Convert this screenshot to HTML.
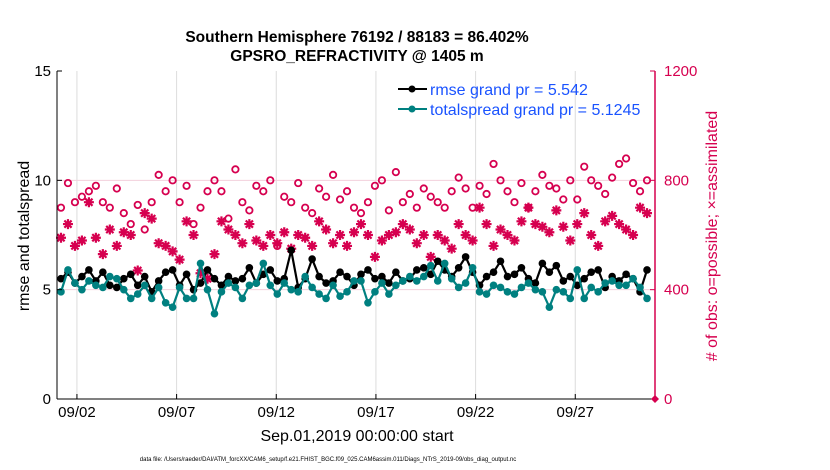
<!DOCTYPE html>
<html><head><meta charset="utf-8"><style>
html,body{margin:0;padding:0;background:#fff;}
svg{display:block;font-family:"Liberation Sans",sans-serif;}
</style></head><body>
<svg id="chart" width="830" height="470" viewBox="0 0 830 470">
<text x="357" y="42" text-anchor="middle" font-size="15.5" font-weight="bold">Southern Hemisphere 76192 / 88183 = 86.402%</text>
<text x="357" y="61" text-anchor="middle" font-size="15.5" font-weight="bold">GPSRO_REFRACTIVITY @ 1405 m</text>
<g id="grid"></g>
<g id="series"></g>
<g id="axes"></g>
<g>
<g>
<line x1="398" y1="89" x2="427" y2="89" stroke="#000" stroke-width="2"/><circle cx="412" cy="89" r="3.5" fill="#000"/>
<text x="430" y="95" font-size="16" fill="#1a53ff">rmse grand pr = 5.542</text></g>
<g>
<line x1="398" y1="109" x2="427" y2="109" stroke="#008080" stroke-width="2"/><circle cx="412" cy="109" r="3.5" fill="#008080"/>
<text x="430" y="115" font-size="16" fill="#1a53ff">totalspread grand pr = 5.1245</text></g>
</g>
<text x="357" y="441" text-anchor="middle" font-size="16">Sep.01,2019 00:00:00 start</text>
<text transform="translate(29,236) rotate(-90)" text-anchor="middle" font-size="16">rmse and totalspread</text>
<text transform="translate(717,236) rotate(-90)" text-anchor="middle" font-size="16" fill="#d6004f"># of obs: o=possible; ×=assimilated</text>
<text x="328" y="461" text-anchor="middle" font-size="6">data file: /Users/raeder/DAI/ATM_forcXX/CAM6_setup/f.e21.FHIST_BGC.f09_025.CAM6assim.011/Diags_NTrS_2019-09/obs_diag_output.nc</text>
</svg>
<script>
const startDay = 0.2;
const stepDay = 0.35;
const xTickDays = [1,6,11,16,21,26];
const xTickLabels = ["09/02","09/07","09/12","09/17","09/22","09/27"];
const yLeftTicks = [0,5,10,15];
const yRightTicks = [0,400,800,1200];
const rmse = [5.5,5.8,5.3,5.6,5.9,5.4,5.8,5.2,5.1,5.5,5.7,5.2,5.6,4.9,5.4,5.8,5.9,5.2,5.7,5.0,5.3,5.9,5.5,5.2,5.6,5.4,5.5,6.0,5.3,5.7,5.9,5.4,5.5,6.8,5.1,5.5,6.4,5.6,5.3,5.4,5.8,5.6,5.2,5.7,5.9,5.5,5.6,5.3,5.8,5.4,5.5,5.9,6.0,5.7,6.3,5.9,5.6,6.0,6.5,5.8,5.2,5.6,5.8,6.3,5.6,5.7,6.0,5.5,5.3,6.2,5.8,6.1,5.4,5.6,5.2,5.5,5.8,5.9,5.1,5.6,5.4,5.7,5.5,4.9,5.9];
const spread = [4.9,5.9,5.3,5.0,5.4,5.2,5.1,5.6,5.5,5.0,4.6,4.8,5.2,4.6,5.1,4.4,4.2,5.1,4.6,4.6,6.2,5.0,3.9,4.9,5.3,5.1,4.6,5.2,5.3,6.2,5.2,4.8,5.3,5.0,4.9,5.6,5.1,4.8,4.6,5.2,4.7,4.9,5.4,5.4,4.4,4.9,5.3,4.8,5.2,5.4,5.6,5.4,5.6,6.1,5.4,6.2,5.5,5.1,5.3,6.0,4.9,4.8,5.2,5.1,4.9,4.8,5.1,5.3,5.0,4.9,4.2,5.0,4.9,4.6,5.9,4.6,5.1,4.9,5.3,5.4,5.2,5.2,5.5,5.1,4.6];
const possible = [700,790,720,740,760,780,720,700,770,680,640,710,620,720,820,760,800,720,780,640,700,760,800,760,660,840,720,690,780,760,800,560,740,720,790,700,680,770,740,820,730,760,700,680,720,780,800,690,830,720,750,700,770,740,720,700,760,810,770,700,780,750,860,800,760,720,790,700,760,820,780,770,730,800,730,850,800,780,750,810,860,880,790,760,800];
const assimilated = [590,640,560,580,720,590,530,620,560,610,600,470,680,660,570,560,540,510,650,600,460,440,530,650,620,600,570,640,580,560,600,570,610,550,600,590,560,650,620,570,600,560,610,640,600,520,580,600,610,640,620,570,600,520,600,580,550,640,600,580,700,640,560,620,600,580,650,700,640,630,610,690,630,580,640,680,600,560,650,670,640,620,600,700,680];

const L=57,R=655,T=71,B=399;
const xs=d=>L+(R-L)*d/30;
const yl=v=>B-(B-T)*v/15;
const yr=v=>B-(B-T)*v/1200;
const NS="http://www.w3.org/2000/svg";
function mk(tag,attrs,parent){const e=document.createElementNS(NS,tag);for(const k in attrs)e.setAttribute(k,attrs[k]);parent.appendChild(e);return e;}
const grid=document.getElementById('grid'),axes=document.getElementById('axes'),ser=document.getElementById('series');

xTickDays.forEach((d,i)=>{
  const g=mk('line',{x1:xs(d),x2:xs(d),y1:T,y2:B,stroke:'#dcdcdc','stroke-width':1},grid);
  
  
  const t=mk('line',{x1:xs(d),x2:xs(d),y1:B,y2:B-5,stroke:'#000'},axes);
  
  
  const tx=mk('text',{x:xs(d),y:B+18,'text-anchor':'middle','font-size':15},axes);
  tx.textContent=xTickLabels[i];
  
  
});
yRightTicks.forEach(v=>{
  if(v>0&&v<1200){const g=mk('line',{x1:L,x2:R,y1:yr(v),y2:yr(v),stroke:'#f2d0dc','stroke-width':1},grid);
  
  }
  const tx=mk('text',{x:R+9,y:yr(v)+5,'font-size':15,fill:'#d6004f'},axes);
  tx.textContent=v;
  
  
  mk('line',{x1:R,x2:R-5,y1:yr(v),y2:yr(v),stroke:'#d6004f'},axes);
});
yLeftTicks.forEach(v=>{
  const tx=mk('text',{x:L-6,y:yl(v)+5,'text-anchor':'end','font-size':15},axes);
  tx.textContent=v;
  
  
  mk('line',{x1:L,x2:L+5,y1:yl(v),y2:yl(v),stroke:'#000'},axes);
});
const la=mk('line',{x1:L,x2:L,y1:T,y2:B,stroke:'#000'},axes);


const ba=mk('line',{x1:L,x2:R,y1:B,y2:B,stroke:'#000'},axes);


const ra=mk('line',{x1:R,x2:R,y1:T,y2:B,stroke:'#d6004f','stroke-width':1.5},axes);


const dm=mk('path',{d:`M${R-4},${B} L${R},${B-4} L${R+4},${B} L${R},${B+4}Z`,fill:'#d6004f'},axes);



const day=i=>startDay+i*stepDay;
possible.forEach((v,i)=>{
  const c=mk('circle',{cx:xs(day(i)),cy:yr(v),r:3.2,fill:'none',stroke:'#d6004f','stroke-width':1.8},ser);
  
  
});
assimilated.forEach((v,i)=>{
  const x=xs(day(i)),y=yr(v),s=5,d=3.6;
  const p=mk('path',{d:`M${x-s},${y}H${x+s}M${x},${y-s}V${y+s}M${x-d},${y-d}L${x+d},${y+d}M${x-d},${y+d}L${x+d},${y-d}`,stroke:'#d6004f','stroke-width':2.2},ser);
  
  
});
function line(vals,color,name){
  const pl=mk('polyline',{points:vals.map((v,i)=>xs(day(i))+','+yl(v)).join(' '),fill:'none',stroke:color,'stroke-width':2.2},ser);
  
  
  vals.forEach((v,i)=>{const c=mk('circle',{cx:xs(day(i)),cy:yl(v),r:3.8,fill:color},ser);
  
  });
}
line(rmse,'#000','rmse');
line(spread,'#008080','totalspread');
</script>
</body></html>
